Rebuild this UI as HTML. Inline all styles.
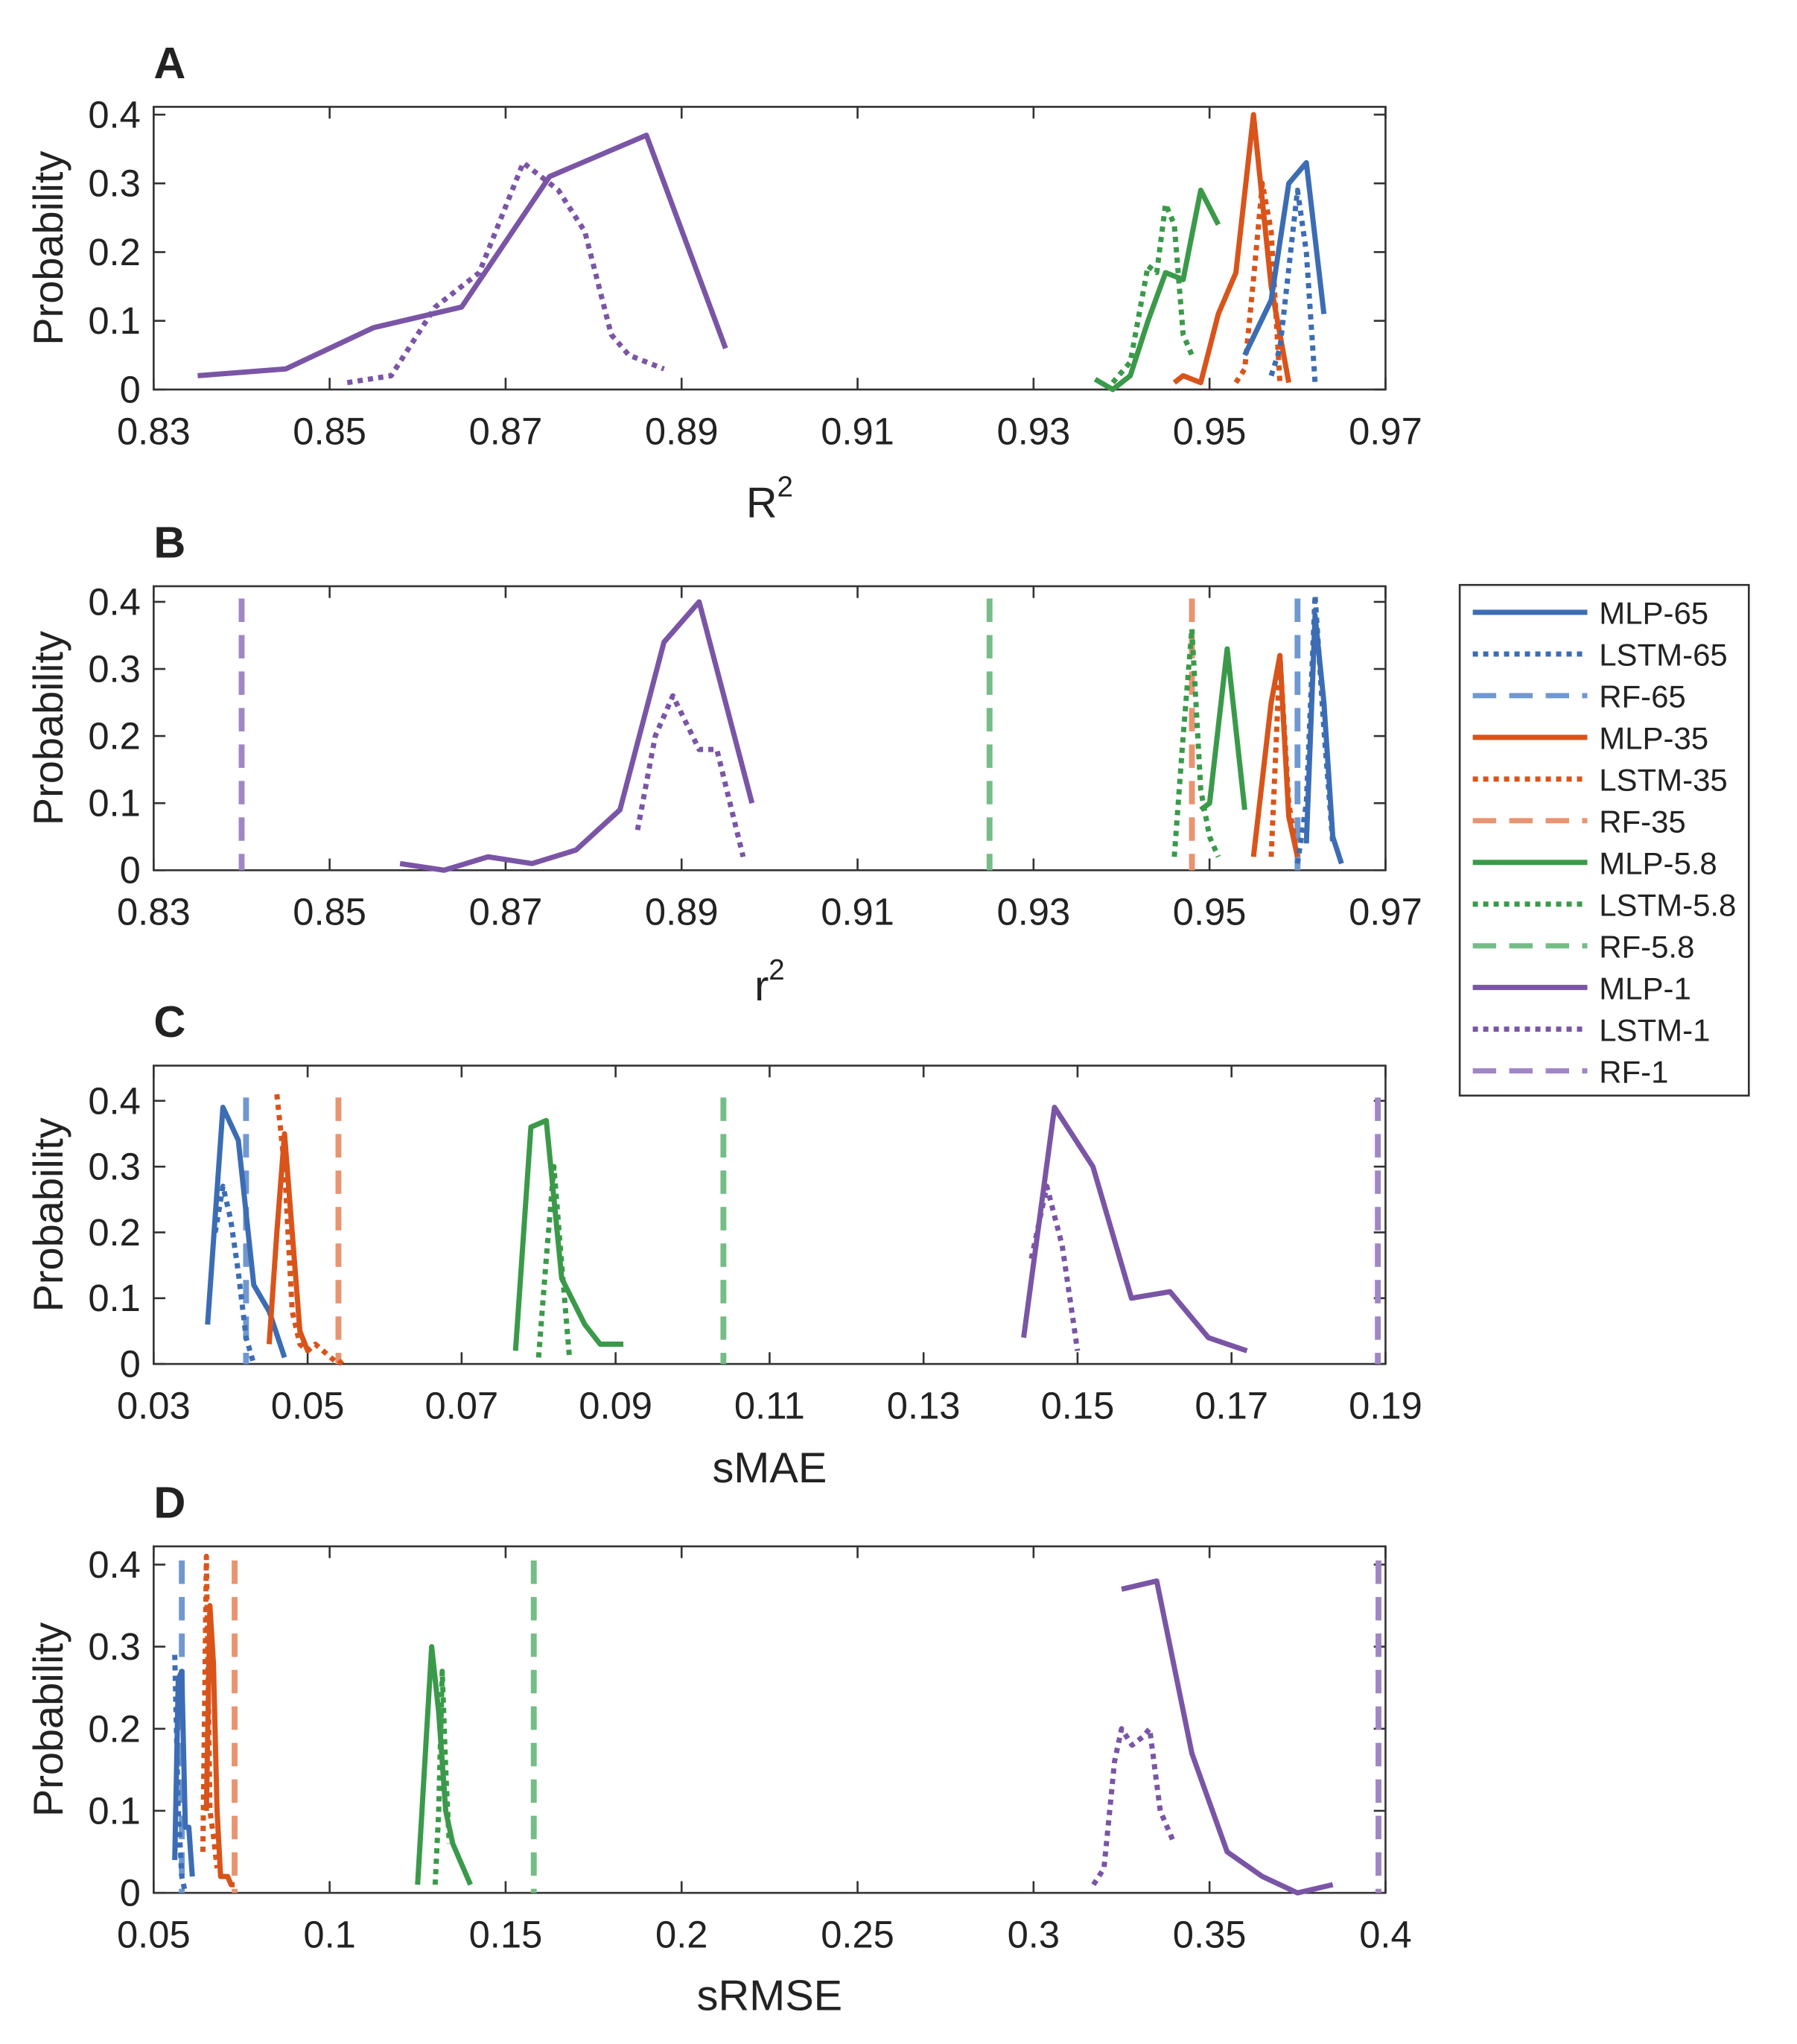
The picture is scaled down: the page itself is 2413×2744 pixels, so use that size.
<!DOCTYPE html>
<html><head><meta charset="utf-8"><style>
html,body{margin:0;padding:0;background:#fff;}
svg{display:block;}
text{font-family:"Liberation Sans",Arial,sans-serif;fill:#222;}
</style></head><body>
<svg id="s" width="2413" height="2744" viewBox="0 0 1380 1569" preserveAspectRatio="none" xmlns="http://www.w3.org/2000/svg"></svg>
<script>
const S=document.getElementById('s');let h='';
const C={b:'#3c6db4',o:'#d9541a',g:'#3a9a4a',p:'#7a55a6'};
const L={b:'#7098cf',o:'#e99470',g:'#74bd86',p:'#a086c4'};
function panel(o){
 const {x0,x1,y0,y1,top,bot,xmin,xmax,ticks,label,letter,ly,sup}=o;
 const X=v=>x0+(v-xmin)/(xmax-xmin)*(x1-x0);
 const Y=v=>y0+(v)/0.4*(y1-y0);
 h+=`<rect x="118" y="${top}" width="946" height="${bot-top}" fill="none" stroke="#333" stroke-width="1.5"/>`;
 ticks.forEach(t=>{const x=X(t[0]);h+=`<line x1="${x}" y1="${bot}" x2="${x}" y2="${bot-9}" stroke="#333" stroke-width="1.5"/><line x1="${x}" y1="${top}" x2="${x}" y2="${top+9}" stroke="#333" stroke-width="1.5"/><text x="${x}" y="${bot+42}" font-size="29" text-anchor="middle">${t[1]}</text>`;});
 [0,0.1,0.2,0.3,0.4].forEach(v=>{const y=Y(v);h+=`<line x1="118" y1="${y}" x2="127" y2="${y}" stroke="#333" stroke-width="1.5"/><line x1="1064" y1="${y}" x2="1055" y2="${y}" stroke="#333" stroke-width="1.5"/><text x="108" y="${y+10}" font-size="29" text-anchor="end">${v}</text>`;});
 h+=`<text x="48" y="${(top+bot)/2}" font-size="32" text-anchor="middle" transform="rotate(-90 48 ${(top+bot)/2})">Probability</text>`;
 h+=`<text x="118" y="${top-22}" font-size="34" font-weight="bold">${letter}</text>`;
 h+=`<text x="591" y="${ly}" font-size="33" text-anchor="middle">${label}${sup?`<tspan font-size="22" dy="-16">2</tspan>`:''}</text>`;
 (o.rf||[]).forEach(r=>{const x=X(r[0]);h+=`<line x1="${x}" y1="${Y(0.405)}" x2="${x}" y2="${bot}" stroke="${L[r[1]]}" stroke-width="4.5" stroke-dasharray="18,10"/>`;});
 (o.series||[]).forEach(s=>{const pts=s[2].map(p=>X(p[0]).toFixed(1)+','+Y(p[1]).toFixed(1)).join(' ');
  h+=`<polyline points="${pts}" fill="none" stroke="${C[s[0]]}" stroke-width="4" stroke-linejoin="round" ${s[1]?'stroke-dasharray="4,4"':''}/>`;});
}
const tA=[[0.83,'0.83'],[0.85,'0.85'],[0.87,'0.87'],[0.89,'0.89'],[0.91,'0.91'],[0.93,'0.93'],[0.95,'0.95'],[0.97,'0.97']];
panel({x0:118,x1:1064,xmin:0.83,xmax:0.97,top:82,bot:299,y0:299,y1:88,ticks:tA,label:'R',sup:1,letter:'A',ly:397,
series:[
['p',0,[[0.835,0.02],[0.845,0.03],[0.855,0.09],[0.865,0.12],[0.875,0.31],[0.886,0.37],[0.895,0.06]]],
['p',1,[[0.852,0.01],[0.857,0.02],[0.862,0.12],[0.867,0.17],[0.872,0.33],[0.876,0.29],[0.879,0.23],[0.882,0.08],[0.884,0.05],[0.888,0.03]]],
['g',0,[[0.937,0.015],[0.939,0],[0.941,0.02],[0.943,0.1],[0.945,0.17],[0.947,0.16],[0.949,0.29],[0.951,0.24]]],
['g',1,[[0.939,0.01],[0.941,0.04],[0.943,0.18],[0.944,0.17],[0.945,0.27],[0.946,0.24],[0.947,0.08],[0.948,0.05]]],
['o',0,[[0.946,0.01],[0.947,0.02],[0.949,0.01],[0.951,0.11],[0.953,0.17],[0.955,0.4],[0.957,0.15],[0.959,0.01]]],
['o',1,[[0.953,0.01],[0.954,0.03],[0.955,0.16],[0.956,0.3],[0.957,0.23],[0.958,0.01]]],
['b',0,[[0.954,0.05],[0.957,0.13],[0.959,0.3],[0.961,0.33],[0.963,0.11]]],
['b',1,[[0.957,0.02],[0.958,0.06],[0.960,0.29],[0.961,0.2],[0.962,0.01]]]]});
panel({x0:118,x1:1064,xmin:0.83,xmax:0.97,top:450,bot:668,y0:668,y1:462,ticks:tA,label:'r',sup:1,letter:'B',ly:768,
rf:[[0.840,'p'],[0.925,'g'],[0.948,'o'],[0.960,'b']],
series:[
['p',0,[[0.858,0.01],[0.863,0],[0.868,0.02],[0.873,0.01],[0.878,0.03],[0.883,0.09],[0.888,0.34],[0.892,0.40],[0.898,0.10]]],
['p',1,[[0.885,0.06],[0.887,0.20],[0.889,0.26],[0.892,0.18],[0.894,0.18],[0.897,0.02]]],
['g',0,[[0.949,0.09],[0.950,0.10],[0.952,0.33],[0.954,0.09]]],
['g',1,[[0.946,0.02],[0.947,0.2],[0.948,0.36],[0.949,0.12],[0.950,0.05],[0.951,0.02]]],
['o',0,[[0.955,0.02],[0.957,0.25],[0.958,0.32],[0.959,0.08],[0.960,0.02]]],
['o',1,[[0.957,0.02],[0.958,0.32],[0.959,0.1],[0.960,0.02]]],
['b',0,[[0.961,0.04],[0.962,0.38],[0.963,0.25],[0.964,0.05],[0.965,0.01]]],
['b',1,[[0.960,0.01],[0.961,0.1],[0.962,0.41],[0.963,0.21],[0.964,0.04]]]]});
panel({x0:118,x1:1064,xmin:0.03,xmax:0.19,top:818,bot:1047,y0:1047,y1:845,
ticks:[[0.03,'0.03'],[0.05,'0.05'],[0.07,'0.07'],[0.09,'0.09'],[0.11,'0.11'],[0.13,'0.13'],[0.15,'0.15'],[0.17,'0.17'],[0.19,'0.19']],label:'sMAE',letter:'C',ly:1138,
rf:[[0.042,'b'],[0.054,'o'],[0.104,'g'],[0.189,'p']],
series:[
['b',0,[[0.037,0.06],[0.039,0.39],[0.041,0.34],[0.043,0.12],[0.045,0.08],[0.047,0.01]]],
['b',1,[[0.038,0.2],[0.039,0.27],[0.040,0.22],[0.041,0.14],[0.042,0.04],[0.043,0]]],
['o',0,[[0.045,0.03],[0.046,0.2],[0.047,0.35],[0.048,0.2],[0.049,0.05],[0.050,0.02]]],
['o',1,[[0.046,0.41],[0.047,0.3],[0.048,0.08],[0.049,0.03],[0.050,0.02],[0.051,0.03],[0.053,0.01],[0.054,0],[0.055,0.01]]],
['g',0,[[0.077,0.02],[0.079,0.36],[0.081,0.37],[0.083,0.13],[0.086,0.06],[0.088,0.03],[0.091,0.03]]],
['g',1,[[0.080,0.01],[0.081,0.16],[0.082,0.3],[0.083,0.15],[0.084,0.01]]],
['p',0,[[0.143,0.04],[0.147,0.39],[0.152,0.30],[0.157,0.10],[0.162,0.11],[0.167,0.04],[0.172,0.02]]],
['p',1,[[0.144,0.16],[0.146,0.27],[0.148,0.18],[0.150,0.02]]]]});
panel({x0:118,x1:1064,xmin:0.05,xmax:0.4,top:1187,bot:1453,y0:1453,y1:1201,
ticks:[[0.05,'0.05'],[0.1,'0.1'],[0.15,'0.15'],[0.2,'0.2'],[0.25,'0.25'],[0.3,'0.3'],[0.35,'0.35'],[0.4,'0.4']],label:'sRMSE',letter:'D',ly:1543,
rf:[[0.058,'b'],[0.073,'o'],[0.158,'g'],[0.398,'p']],
series:[
['b',0,[[0.056,0.04],[0.057,0.26],[0.058,0.27],[0.059,0.08],[0.060,0.08],[0.061,0.02]]],
['b',1,[[0.056,0.29],[0.057,0.1],[0.058,0.02],[0.059,0]]],
['o',0,[[0.065,0.1],[0.066,0.35],[0.067,0.28],[0.068,0.1],[0.069,0.02],[0.071,0.02],[0.072,0.01],[0.073,0.01]]],
['o',1,[[0.064,0.05],[0.065,0.41],[0.066,0.1],[0.067,0.07],[0.068,0.03]]],
['g',0,[[0.125,0.01],[0.129,0.3],[0.131,0.22],[0.133,0.1],[0.135,0.06],[0.137,0.04],[0.140,0.01]]],
['g',1,[[0.130,0.01],[0.131,0.1],[0.132,0.27],[0.133,0.15],[0.134,0.06]]],
['p',0,[[0.325,0.37],[0.335,0.38],[0.345,0.17],[0.355,0.05],[0.365,0.02],[0.375,0],[0.385,0.01]]],
['p',1,[[0.317,0.01],[0.320,0.03],[0.323,0.16],[0.325,0.2],[0.328,0.18],[0.331,0.19],[0.333,0.2],[0.336,0.1],[0.340,0.06]]]]});
// legend
h+=`<rect x="1121" y="449" width="222" height="392" fill="#fff" stroke="#333" stroke-width="1.5"/>`;
const names=['65','35','5.8','1'],cs=['b','o','g','p'];let y=470;
cs.forEach((c,i)=>{[['MLP',0],['LSTM',1],['RF',2]].forEach(t=>{
 const st=t[1]==0?`stroke="${C[c]}"`:t[1]==1?`stroke="${C[c]}" stroke-dasharray="4,4"`:`stroke="${L[c]}" stroke-dasharray="18,10"`;
 h+=`<line x1="1131" y1="${y}" x2="1219" y2="${y}" ${st} stroke-width="4"/><text x="1228" y="${y+9}" font-size="24">${t[0]}-${names[i]}</text>`;y+=32;});});
S.innerHTML=h;
</script>
</body></html>
